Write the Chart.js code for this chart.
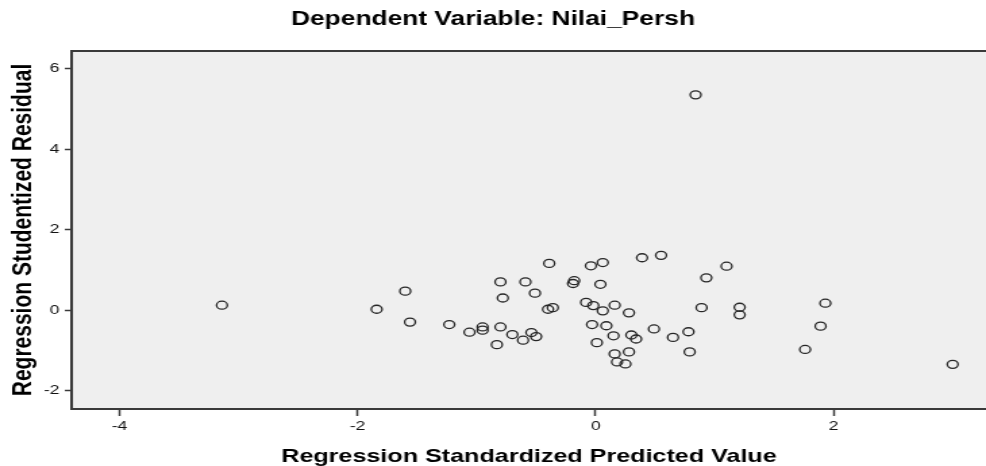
<!DOCTYPE html>
<html>
<head>
<meta charset="utf-8">
<script src="https://cdn.jsdelivr.net/npm/chart.js@4.4.1/dist/chart.umd.min.js"></script>
<style>
  html, body { margin: 0; padding: 0; background: #fff; overflow: hidden; }
</style>
</head>
<body>
<!-- the source picture is a stretched SPSS chart: draw narrow (730), show wide (986) -->
<canvas id="residChart" width="730" height="466" style="width:986px;height:466px;display:block"></canvas>
<script>
// Regression Standardized Predicted Value (x)
const predValues = [
  -3.14, -1.84, -1.60, -1.56, -1.23, -1.06, -0.95, -0.95, -0.83, -0.80,
  -0.78, -0.80, -0.70, -0.61, -0.59, -0.51, -0.54, -0.50, -0.39, -0.40,
  -0.36, -0.19, -0.18, -0.04, 0.06, 0.04, 0.39, 0.55, 1.10, 0.93,
  -0.08, -0.02, 0.06, 0.16, 0.28, 0.89, 1.21, 1.21, -0.03, 0.09,
  0.15, 0.30, 0.34, 0.49, 0.65, 0.78, 0.01, 0.16, 0.28, 0.79,
  0.18, 0.25, 1.93, 1.89, 1.76, 3.00, 0.84
];
// Regression Studentized Residual (y)
const residValues = [
  0.12, 0.02, 0.47, -0.30, -0.36, -0.55, -0.42, -0.50, -0.86, 0.70,
  0.30, -0.42, -0.61, -0.75, 0.70, 0.42, -0.56, -0.66, 1.16, 0.02,
  0.06, 0.66, 0.73, 1.10, 1.18, 0.64, 1.30, 1.36, 1.09, 0.80,
  0.19, 0.11, -0.02, 0.12, -0.07, 0.06, 0.07, -0.12, -0.36, -0.39,
  -0.64, -0.62, -0.72, -0.47, -0.68, -0.54, -0.81, -1.09, -1.04, -1.04,
  -1.29, -1.34, 0.17, -0.40, -0.98, -1.35, 5.35
];
const xTicks = [-4, -2, 0, 2];
const yTicks = [-2, 0, 2, 4, 6];

const FONT = "'Liberation Sans', Arial, sans-serif";
const FRAME = "#3a3a3a";

const points = predValues.map((x, i) => ({ x: x, y: residValues[i] }));

// grey plot background + top frame line
const plotFrame = {
  id: "plotFrame",
  beforeDraw(chart) {
    const { ctx, chartArea: a } = chart;
    ctx.save();
    ctx.fillStyle = "#efefef";
    ctx.fillRect(a.left, a.top, a.right - a.left, a.bottom - a.top);
    ctx.restore();
  },
  afterDraw(chart) {
    const { ctx, chartArea: a } = chart;
    ctx.save();
    ctx.strokeStyle = FRAME;
    ctx.lineWidth = 2;
    ctx.beginPath();
    ctx.moveTo(a.left, a.top);
    ctx.lineTo(a.right, a.top);
    ctx.stroke();
    ctx.restore();
  }
};

const canvas = document.getElementById("residChart");
new Chart(canvas, {
  type: "scatter",
  data: {
    datasets: [{
      data: points,
      pointStyle: "circle",
      pointRadius: 4,
      pointBorderWidth: 1.3,
      pointBorderColor: "#262626",
      pointBackgroundColor: "rgba(0,0,0,0)"
    }]
  },
  options: {
    responsive: false,
    devicePixelRatio: 1,
    animation: false,
    layout: { padding: 0, autoPadding: false },
    plugins: {
      legend: { display: false },
      tooltip: { enabled: false },
      title: {
        display: true,
        text: "Dependent Variable: Nilai_Persh",
        color: "#000",
        font: { family: FONT, size: 19.5, weight: "bold", lineHeight: 1.2 },
        padding: { top: 8, bottom: 19.6 }
      }
    },
    scales: {
      x: {
        type: "linear",
        min: -4.40,
        max: 3.28,
        afterBuildTicks: (s) => { s.ticks = xTicks.map(v => ({ value: v })); },
        afterFit: (s) => { s.height = 57; s.paddingLeft = 0; s.paddingRight = 0; },
        border: { display: true, color: FRAME, width: 2 },
        grid: { display: true, drawOnChartArea: false, drawTicks: true, tickLength: 7, tickColor: FRAME, tickWidth: 1.5 },
        ticks: { color: "#111", padding: 3, font: { family: FONT, size: 13 } },
        title: {
          display: true,
          text: "Regression Standardized Predicted Value",
          color: "#000",
          font: { family: FONT, size: 18.6, weight: "bold", lineHeight: 1 },
          padding: { top: 0, bottom: 0 }
        }
      },
      y: {
        type: "linear",
        min: -2.46,
        max: 6.44,
        afterBuildTicks: (s) => { s.ticks = yTicks.map(v => ({ value: v })); },
        afterFit: (s) => { s.width = 53.3; },
        border: { display: true, color: FRAME, width: 2 },
        grid: { display: true, drawOnChartArea: false, drawTicks: true, tickLength: 5.3, tickColor: FRAME, tickWidth: 1.5 },
        ticks: { color: "#111", padding: 4, font: { family: FONT, size: 13 } },
        title: {
          display: true,
          text: "Regression Studentized Residual",
          color: "#000",
          font: { family: FONT, size: 21, weight: "bold", lineHeight: 1 },
          padding: { top: 7, bottom: 0 }
        }
      }
    }
  },
  plugins: [plotFrame]
});
// keep the wide display size in case the library reset it
canvas.style.width = "986px";
canvas.style.height = "466px";
</script>
</body>
</html>
